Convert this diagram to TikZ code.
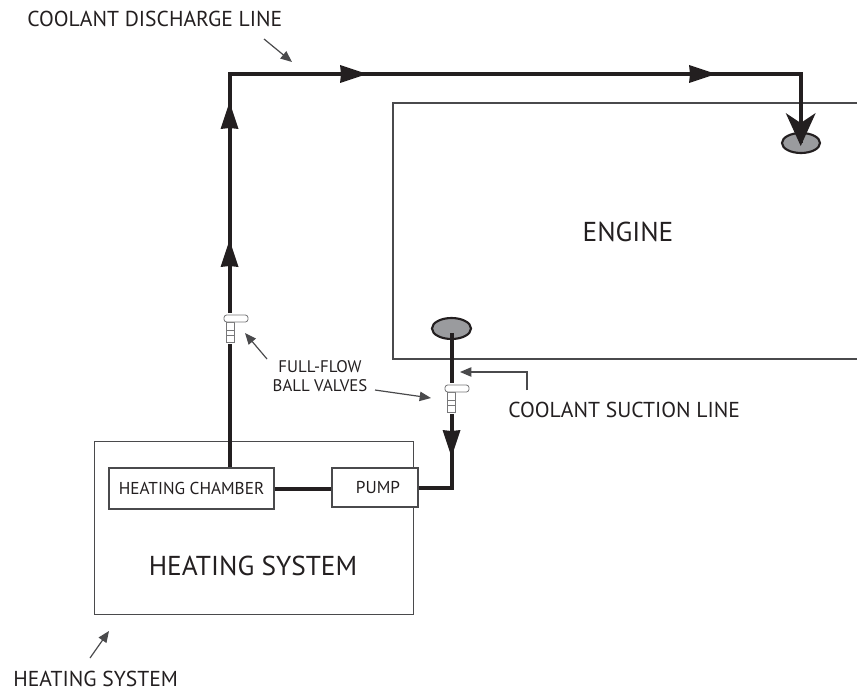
\documentclass[tikz,border=0pt]{standalone}
\usepackage{fontspec}
\setmainfont{PT Sans}
\usetikzlibrary{arrows.meta,shapes.geometric}
\definecolor{ink}{HTML}{231F20}
\definecolor{port}{HTML}{9A9B9E}
\definecolor{edge}{HTML}{4A4A4C}
\tikzset{
  box/.style={draw=edge,line width=1.1pt,fill=white,inner sep=0pt},
  pipe/.style={draw=ink,line width=3pt,line join=miter},
  lead/.style={draw=edge,line width=0.9pt,-{Triangle[length=8.5pt,width=7pt]}},
  lbl/.style={inner sep=0pt,text=ink,anchor=west,font=\fontsize{16.2}{18}\selectfont},
  big/.style={inner sep=0pt,text=ink,font=\fontsize{20.5}{22}\selectfont},
  small/.style={text=ink,font=\fontsize{12.9}{14}\selectfont},
  portshape/.style={draw=ink,line width=1.6pt,fill=port,shape=ellipse,inner sep=0pt},
  valvepart/.style={draw=edge!75,line width=0.6pt,fill=white}
}
\newcommand{\headU}[1]{\fill[ink] (#1) ++(-9,13) -- ++(9,-27) -- ++(9,27) -- ++(-9,-1) -- cycle;}
\newcommand{\headD}[1]{\fill[ink] (#1) ++(-9,-13) -- ++(9,27) -- ++(9,-27) -- ++(-9,1) -- cycle;}
\newcommand{\headR}[1]{\fill[ink] (#1) ++(-13,-9) -- ++(27,9) -- ++(-27,9) -- ++(1,-9) -- cycle;}
\newcommand{\valve}[1]{%
  \fill[white] (#1) ++(0,-2) rectangle ++(11,31);
  \draw[valvepart] (#1) ++(2,7) rectangle ++(8,8);
  \draw[valvepart] (#1) ++(2,15) rectangle ++(8,5);
  \draw[valvepart] (#1) ++(2,20) rectangle ++(8,7);
  \draw[valvepart,rounded corners=2pt] (#1) rectangle ++(24,7);
}
\begin{document}
\begin{tikzpicture}[x=0.75pt,y=-0.75pt]
\useasboundingbox (0,0) rectangle (857,692);
% engine
\coordinate (eTR) at (857,103);
\coordinate (eTL) at (393,103);
\coordinate (eBL) at (393,359);
\coordinate (eBR) at (857,359);
\draw[edge,line width=1.7pt] (eTR) -- (eTL) -- (eBL) -- (eBR);
\node[big] (engine) at (628,231.5) {ENGINE};
% heating system
\node[box,minimum width=319*0.75pt,minimum height=173*0.75pt,anchor=north west] (heat) at (94,441) {};
\node[big] (heatlabel) at (253,566) {HEATING SYSTEM};
% ports
\node[portshape,minimum width=38*0.75pt,minimum height=20*0.75pt] (portA) at (801,143) {};
\node[portshape,minimum width=39*0.75pt,minimum height=21*0.75pt] (portB) at (451.5,328.5) {};
% inner boxes
\node[box,minimum width=165*0.75pt,minimum height=41*0.75pt,small] (chamber) at (191.5,488.5) {HEATING CHAMBER};
\node[box,minimum width=86*0.75pt,minimum height=39*0.75pt,small] (pump) at (375,487.5) {\hspace{4.5pt}PUMP};
% pipes
\coordinate (c1) at (229.5,74);
\coordinate (c2) at (801,74);
\draw[pipe] (chamber.north -| c1) -- (c1) -- (c2) -- (portA.center);
\draw[pipe] (chamber.east) -- (chamber.east -| pump.west);
\draw[pipe] ([yshift=-3.5pt]portB.center) -- (portB.center |- pump.east) -- (pump.east);
% arrowheads
\coordinate (h1) at (229.5,116);
\coordinate (h2) at (229.5,254);
\coordinate (h3) at (353,74);
\coordinate (h4) at (702,74);
\coordinate (h5) at (451.5,443);
\headU{h1}\headU{h2}\headR{h3}\headR{h4}\headD{h5}
\fill[ink] (800.7,146) -- ++(-15,-33) -- ++(15,10) -- ++(15,-10) -- cycle;
% valves
\coordinate (v1) at (224,315);
\coordinate (v2) at (445,385);
\valve{v1}\valve{v2}
% labels
\node[lbl] (lDis) at (27,19) {COOLANT DISCHARGE LINE};
\node[lbl] (lSuc) at (508,410) {COOLANT SUCTION LINE};
\node[lbl] (lHeat) at (13,679) {HEATING SYSTEM};
\node[font=\fontsize{12.6}{14.3}\selectfont,text=ink,inner sep=0pt,align=center] (lBall) at (320,376) {FULL-FLOW\\BALL VALVES};
% leaders
\coordinate (d0) at (264,39);
\coordinate (d1) at (292,62);
\draw[lead] (d0) -- (d1);
\coordinate (s0) at (527,390);
\coordinate (s1) at (527,372);
\coordinate (s2) at (460,372);
\draw[lead] (s0) -- (s1) -- (s2);
\coordinate (b1a) at (267,359);
\coordinate (b1b) at (245,333);
\draw[lead] (b1a) -- (b1b);
\coordinate (b2a) at (375,390);
\coordinate (b2b) at (431,398);
\draw[lead] (b2a) -- (b2b);
\coordinate (hs0) at (90,658);
\coordinate (hs1) at (109,631);
\draw[lead] (hs0) -- (hs1);
\end{tikzpicture}
\end{document}
